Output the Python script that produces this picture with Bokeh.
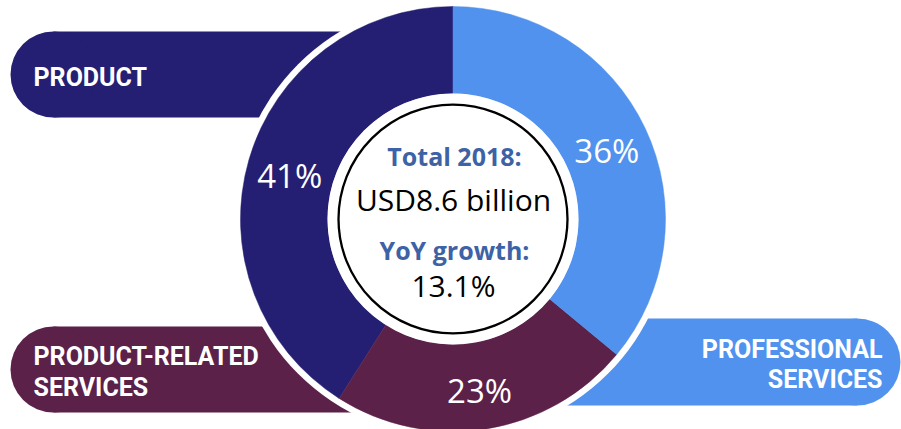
import numpy as np
from bokeh.plotting import figure
from bokeh.models import Range1d
from bokeh.core.properties import value
from bokeh.embed import file_html
from bokeh.resources import INLINE

# ---- data ----
segments = ["Product", "Product-related services", "Professional services"]
shares = [41, 23, 36]
seg_colors = ["#241f72", "#5b2149", "#5092ee"]
pct_labels = ["41%", "23%", "36%"]
box_lines = [["PRODUCT"], ["PRODUCT-RELATED", "SERVICES"], ["PROFESSIONAL", "SERVICES"]]
total_title = "Total 2018:"
total_value = "USD8.6 billion"
growth_title = "YoY growth:"
growth_value = "13.1%"

# ---- figure: data units == picture pixels ----
W, H = 901, 429
p = figure(width=W, height=H, x_range=Range1d(0, W), y_range=Range1d(429 - H, 429),
           output_backend="svg", toolbar_location=None,
           x_axis_location=None, y_axis_location=None, min_border=0,
           outline_line_color=None)
p.grid.visible = False
p.background_fill_color = "white"
p.border_fill_color = "white"

TXT_SHIFT = 8  # text baseline correction in pixels


def Y(py):
    return 429 - py


def TY(py):
    return 429 - py + TXT_SHIFT


CX, CY = 452.5, Y(218.5)
R_OUT, R_IN, R_RING, R_CIRC = 212.5, 125.5, 219, 114.5

# ---- label boxes (pills) ----
boxes = [
    dict(left=53, right=365, top=31, bottom=117, cap="left"),
    dict(left=53, right=368, top=326, bottom=412, cap="left"),
    dict(left=540, right=856.5, top=318, bottom=405, cap="right"),
]
for b, col in zip(boxes, seg_colors):
    p.quad(left=[b["left"]], right=[b["right"]], top=[Y(b["top"])], bottom=[Y(b["bottom"])],
           fill_color=col, line_color=None)
    r = (b["bottom"] - b["top"]) / 2
    cx = b["left"] if b["cap"] == "left" else b["right"]
    p.circle(x=[cx], y=[Y((b["top"] + b["bottom"]) / 2)], radius=r,
             fill_color=col, line_color=None)

# ---- white ring separating boxes from donut ----
p.circle(x=[CX], y=[CY], radius=R_RING, fill_color="white", line_color=None)

# ---- donut ----
fracs = np.array(shares, dtype=float) / sum(shares)
ends = 90 + np.cumsum(fracs) * 360
starts = ends - fracs * 360
p.annular_wedge(x=[CX] * 3, y=[CY] * 3, inner_radius=R_IN, outer_radius=R_OUT,
                start_angle=list(np.deg2rad(starts)), end_angle=list(np.deg2rad(ends)),
                fill_color=seg_colors, line_color=seg_colors, line_width=0.5)

# inner circle
p.circle(x=[CX], y=[CY], radius=R_IN, fill_color="white", line_color=None)
p.circle(x=[CX], y=[CY], radius=R_CIRC, fill_color="white", line_color="black", line_width=2.3)

# ---- percent labels ----
mids = np.deg2rad((starts + ends) / 2)
R_LAB = 170
px = CX + R_LAB * np.cos(mids)
py = CY + R_LAB * np.sin(mids)
p.text(x=list(px), y=list(py - 12 + TXT_SHIFT), text=pct_labels, text_color="white",
       text_font=value("Open Sans"), text_font_size="33px",
       text_align="center", text_baseline="alphabetic")

# ---- box texts ----
lab_font = value("Roboto")
p.text(x=[33], y=[TY(85)], text=box_lines[0], text_color="white", text_font=lab_font,
       text_font_style="bold", text_font_size="25px", text_align="left", text_baseline="alphabetic")
p.text(x=[33, 33], y=[TY(364), TY(395)], text=box_lines[1], text_color="white", text_font=lab_font,
       text_font_style="bold", text_font_size="25px", text_align="left", text_baseline="alphabetic")
p.text(x=[882, 882], y=[TY(357), TY(387)], text=box_lines[2], text_color="white", text_font=lab_font,
       text_font_style="bold", text_font_size="25px", text_align="right", text_baseline="alphabetic")

# ---- centre texts ----
blue = "#3d62a5"
p.text(x=[454, 454], y=[TY(163), TY(257)], text=[total_title, growth_title], text_color=blue,
       text_font=value("Open Sans"), text_font_style="bold", text_font_size="25px",
       text_align="center", text_baseline="alphabetic")
p.text(x=[453, 453], y=[TY(207), TY(293)], text=[total_value, growth_value], text_color="black",
       text_font=value("Open Sans"), text_font_size="30px",
       text_align="center", text_baseline="alphabetic")

open("out.html", "w").write(file_html(p, INLINE))
